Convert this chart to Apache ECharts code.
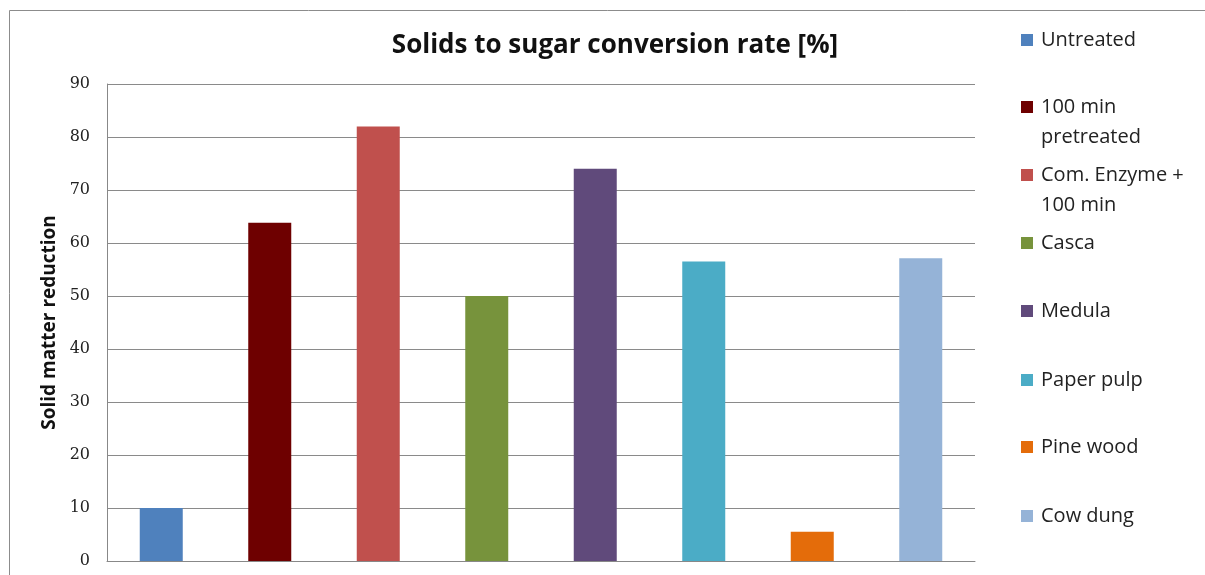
<!DOCTYPE html>
<html>
<head>
<meta charset="utf-8">
<script src="https://cdn.jsdelivr.net/npm/echarts@6/dist/echarts.min.js"></script>
<style>
  html, body { margin: 0; padding: 0; background: #fff; }
  #main { width: 1205px; height: 575px; }
</style>
</head>
<body>
<div id="main"></div>
<script>
// categories / values
var categories = ["Untreated", "100 min pretreated", "Com. Enzyme + 100 min", "Casca",
                  "Medula", "Paper pulp", "Pine wood", "Cow dung"];
var values = [10, 63.8, 82, 50, 74, 56.5, 5.5, 57.1];
var colors = ["#4F81BD", "#6E0000", "#C0504D", "#77933C",
              "#604A7B", "#4BACC6", "#E46C0A", "#95B3D7"];
// legend text as wrapped in the picture
var legendLabels = ["Untreated", "100 min\npretreated", "Com. Enzyme +\n100 min", "Casca",
                    "Medula", "Paper pulp", "Pine wood", "Cow dung"];
var yTicks = [0, 10, 20, 30, 40, 50, 60, 70, 80, 90];

// legend item centres (px)
var legendCenters = [40, 107, 175, 243, 311, 380, 447, 516];

var myChart = echarts.init(document.getElementById("main"));

var series = categories.map(function (name, i) {
  return {
    name: name,
    type: "bar",
    stack: "all",
    barWidth: 43,
    itemStyle: { color: colors[i] },
    data: categories.map(function (c, j) { return j === i ? values[i] : "-"; })
  };
});

var legends = categories.map(function (name, i) {
  var twoLines = legendLabels[i].indexOf("\n") >= 0;
  return {
    data: [name],
    left: 1021,
    top: twoLines ? legendCenters[i] - 45 : legendCenters[i] - 15,
    padding: 0,
    itemWidth: 12,
    itemHeight: 12,
    selectedMode: false,
    icon: "rect",
    // blank first line so that the first text line sits beside the icon
    formatter: function () { return twoLines ? "\n" + legendLabels[i] : legendLabels[i]; },
    textStyle: {
      fontFamily: "Open Sans",
      fontSize: 20,
      color: "#222",
      lineHeight: 30,
      padding: [0, 0, 0, 3]
    }
  };
});

var option = {
  backgroundColor: "#fff",
  animation: false,
  title: {
    text: "Solids to sugar conversion rate [%]",
    left: 610,
    textAlign: "center",
    top: 28,
    textStyle: { fontFamily: "Open Sans", fontSize: 26, fontWeight: "bold", color: "#111" }
  },
  legend: legends,
  graphic: [{
    type: "rect",
    shape: { x: 9.5, y: 10.5, width: 1300, height: 700 },
    style: { fill: null, stroke: "#8c8c8c", lineWidth: 1 },
    silent: true
  }],
  grid: { left: 107, right: 230, top: 84, bottom: 14, containLabel: false },
  xAxis: {
    type: "category",
    data: categories,
    axisLabel: { show: false },
    axisTick: { show: false },
    axisLine: { lineStyle: { color: "#888" } }
  },
  yAxis: {
    type: "value",
    min: yTicks[0],
    max: yTicks[yTicks.length - 1],
    interval: 10,
    name: "Solid matter reduction",
    nameLocation: "middle",
    nameGap: 48,
    nameTextStyle: { fontFamily: "Open Sans", fontSize: 19, fontWeight: "bold", color: "#111" },
    axisLine: { show: true, lineStyle: { color: "#888" } },
    axisTick: { show: false },
    axisLabel: { fontFamily: "DejaVu Serif", fontSize: 16, color: "#222", margin: 17 },
    splitLine: { lineStyle: { color: "#8a8a8a", width: 1 } }
  },
  series: series
};

myChart.setOption(option);
</script>
</body>
</html>
